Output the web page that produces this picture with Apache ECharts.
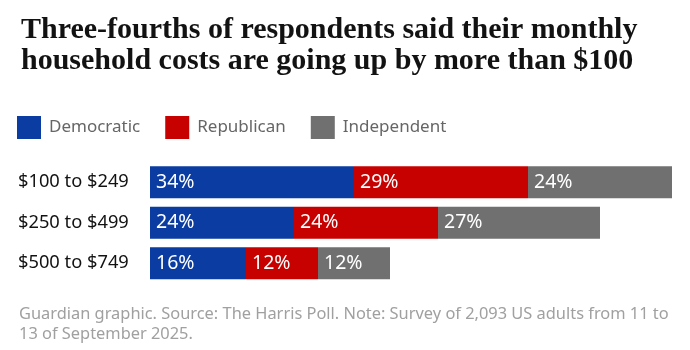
<!DOCTYPE html>
<html>
<head>
<meta charset="utf-8">
<script src="https://cdn.jsdelivr.net/npm/echarts@6/dist/echarts.min.js"></script>
<style>
  html, body { margin: 0; padding: 0; background: #fff; }
  #chart { width: 690px; height: 350px; }
</style>
</head>
<body>
<div id="chart"></div>
<script>
// categories and shares (%)
const categories = ['$100 to $249', '$250 to $499', '$500 to $749'];
const democratic = [34, 24, 16];
const republican = [29, 24, 12];
const independent = [24, 27, 12];

const sans = 'Noto Sans';

function barSeries(name, data, color) {
  return {
    name: name,
    type: 'bar',
    stack: 'total',
    data: data,
    barWidth: 32,
    itemStyle: { color: color },
    label: {
      show: true,
      position: 'insideLeft',
      distance: 6,
      formatter: '{c}%',
      color: '#fff',
      fontFamily: sans,
      fontSize: 19.5
    },
    emphasis: { disabled: true }
  };
}

const chart = echarts.init(document.getElementById('chart'));
chart.setOption({
  animation: false,
  title: [{
    text: 'Three-fourths of respondents said their monthly\nhousehold costs are going up by more than $100',
    left: 16,
    top: 9.5,
    textStyle: {
      fontFamily: 'Liberation Serif',
      fontWeight: 'bold',
      fontSize: 30,
      lineHeight: 31,
      color: '#121212'
    }
  }, {
    text: 'Guardian graphic. Source: The Harris Poll. Note: Survey of 2,093 US adults from 11 to\n13 of September 2025.',
    left: 14,
    top: 299,
    textStyle: {
      fontFamily: sans,
      fontWeight: 'normal',
      fontSize: 16.4,
      lineHeight: 20,
      color: '#a0a0a0'
    }
  }],
  legend: {
    left: 12,
    top: 111,
    itemWidth: 24,
    itemHeight: 23,
    itemGap: 25,
    icon: 'rect',
    selectedMode: false,
    textStyle: {
      fontFamily: sans,
      fontSize: 17,
      color: '#666666',
      padding: [0, 0, 0, 3]
    },
    data: ['Democratic', 'Republican', 'Independent']
  },
  grid: {
    left: 150,
    right: 0,
    top: 162,
    height: 121.5
  },
  xAxis: {
    type: 'value',
    min: 0,
    max: 90,
    show: false
  },
  yAxis: {
    type: 'category',
    inverse: true,
    data: categories,
    axisLine: { show: false },
    axisTick: { show: false },
    axisLabel: {
      align: 'left',
      margin: 132,
      fontFamily: sans,
      fontSize: 18.3,
      color: '#121212'
    }
  },
  series: [
    barSeries('Democratic', democratic, '#0a3ca2'),
    barSeries('Republican', republican, '#c70000'),
    barSeries('Independent', independent, '#707070')
  ]
});
window.addEventListener('resize', () => {
  chart.resize();
});
</script>
</body>
</html>
